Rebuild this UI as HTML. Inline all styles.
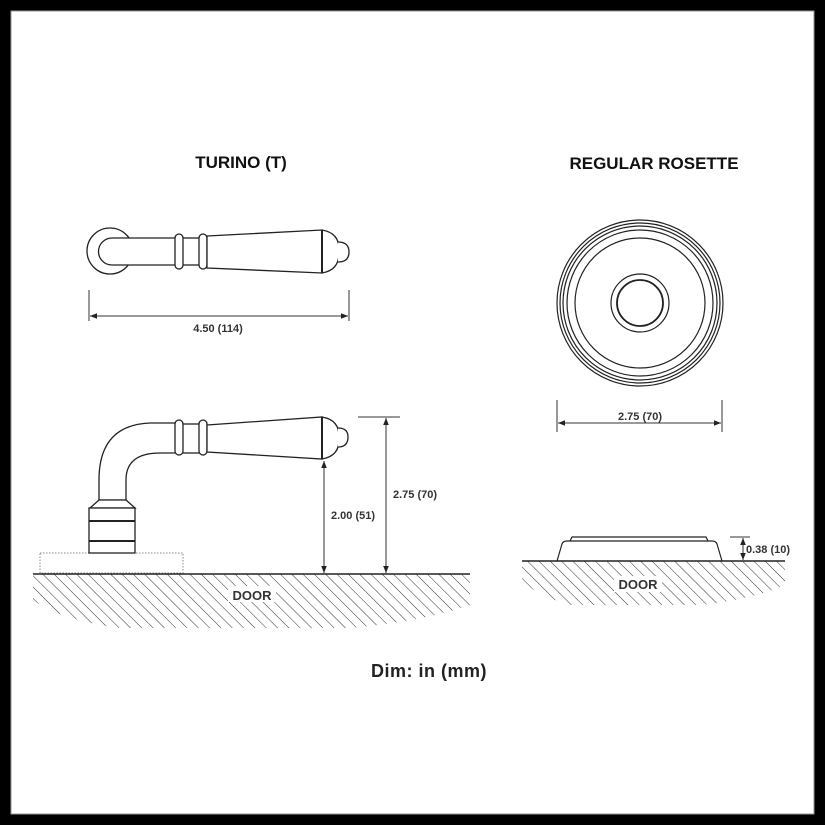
<!DOCTYPE html>
<html><head><meta charset="utf-8"><style>
html,body{margin:0;padding:0;background:#000;}
svg{display:block;}
text{font-family:"Liberation Sans",Arial,sans-serif;}
</style></head><body>
<svg width="825" height="825" viewBox="0 0 825 825" xmlns="http://www.w3.org/2000/svg">
<defs>
<marker id="ar" viewBox="0 0 10 10" refX="10" refY="5" markerWidth="7" markerHeight="7" orient="auto-start-reverse"><path d="M0,1 L10,5 L0,9 z" fill="#222"/></marker>
<pattern id="hatch" width="8" height="8" patternUnits="userSpaceOnUse" patternTransform="rotate(-45)"><line x1="0" y1="0" x2="0" y2="8" stroke="#333" stroke-width="1"/></pattern>
<clipPath id="c1"><path d="M33,574 L470,574 L470,605 Q420,622 350,628 L120,628 Q60,620 33,600 z"/></clipPath>
<clipPath id="c2"><path d="M522,561 L785,561 L785,585 Q750,600 700,605 L570,605 Q535,595 522,580 z"/></clipPath>
</defs>
<rect x="0" y="0" width="825" height="825" fill="#000"/>
<rect x="11" y="11" width="803" height="803" fill="#fff" stroke="#999" stroke-width="1"/>

<g fill="none" stroke="#222" stroke-width="1.3">
<circle cx="110" cy="251" r="23" fill="#fff"/>
<path d="M175,238 L112,238 A13.5,13.5 0 0 0 112,265 L175,265" fill="#fff"/>
<rect x="175" y="234" width="8" height="35" rx="4" fill="#fff"/>
<rect x="199" y="234" width="8" height="35" rx="4" fill="#fff"/>
<line x1="183" y1="238" x2="199" y2="238"/><line x1="183" y1="265" x2="199" y2="265"/>
<path d="M207,236 L322,230 L322,273 L207,268 z" fill="#fff"/>
<path d="M322,230 Q340,233 339,251 Q340,270 322,273" fill="#fff"/>
<path d="M338,242 Q349,242 349,252 Q349,262 338,262" fill="#fff"/>
<line x1="322" y1="230" x2="322" y2="273" stroke-width="2"/>
</g>
<g stroke="#333" stroke-width="1" fill="none">
<line x1="89" y1="290" x2="89" y2="321"/><line x1="349" y1="290" x2="349" y2="321"/>
<line x1="90" y1="316" x2="348" y2="316" marker-start="url(#ar)" marker-end="url(#ar)"/>
</g>
<text x="218" y="332" font-size="11" font-weight="bold" text-anchor="middle" fill="#333">4.50 (114)</text>

<rect x="40" y="553" width="143" height="20" fill="none" stroke="#888" stroke-width="1" stroke-dasharray="1.5,1.5"/>
<g fill="#fff" stroke="#222" stroke-width="1.3">
<path d="M175,423 L150,423 Q99,425 99,480 L99,500 L126,500 L126,480 Q126,453 160,453 L175,453"/>
<path d="M99,500 L126,500 L135,508 L90,508 z"/>
<rect x="89" y="508" width="46" height="45"/>
<line x1="89" y1="521" x2="135" y2="521" stroke-width="2"/>
<line x1="89" y1="541" x2="135" y2="541" stroke-width="2"/>
<rect x="175" y="420" width="8" height="35" rx="4"/>
<rect x="199" y="420" width="8" height="35" rx="4"/>
<line x1="183" y1="424" x2="199" y2="424"/><line x1="183" y1="453" x2="199" y2="453"/>
<path d="M207,425 L322,417 L322,459 L207,452 z"/>
<path d="M322,417 Q340,420 339,438 Q340,456 322,459"/>
<path d="M338,428 Q348,428 348,437 Q348,447 338,447"/>
<line x1="322" y1="417" x2="322" y2="459" stroke-width="2"/>
</g>
<rect x="33" y="574" width="437" height="60" fill="url(#hatch)" clip-path="url(#c1)"/>
<line x1="33" y1="574" x2="470" y2="574" stroke="#222" stroke-width="1.5"/>
<rect x="228" y="586" width="48" height="16" fill="#fff"/>
<text x="252" y="600" font-size="13" font-weight="bold" text-anchor="middle" fill="#333">DOOR</text>
<g stroke="#333" stroke-width="1" fill="none">
<line x1="324" y1="461" x2="324" y2="573" marker-start="url(#ar)" marker-end="url(#ar)"/>
<line x1="358" y1="417" x2="400" y2="417"/>
<line x1="386" y1="418" x2="386" y2="573" marker-start="url(#ar)" marker-end="url(#ar)"/>
</g>
<rect x="328" y="508" width="52" height="14" fill="#fff"/>
<text x="353" y="519" font-size="11" font-weight="bold" text-anchor="middle" fill="#333">2.00 (51)</text>
<text x="415" y="498" font-size="11" font-weight="bold" text-anchor="middle" fill="#333">2.75 (70)</text>

<g fill="none" stroke="#222" stroke-width="1.2">
<circle cx="640" cy="303" r="83"/>
<circle cx="640" cy="303" r="80"/>
<circle cx="640" cy="303" r="77"/>
<circle cx="640" cy="303" r="73"/>
<circle cx="640" cy="303" r="65"/>
<circle cx="640" cy="303" r="29"/>
<circle cx="640" cy="303" r="23" stroke-width="1.8"/>
</g>
<g stroke="#333" stroke-width="1" fill="none">
<line x1="557" y1="400" x2="557" y2="432"/><line x1="722" y1="400" x2="722" y2="432"/>
<line x1="558" y1="423" x2="721" y2="423" marker-start="url(#ar)" marker-end="url(#ar)"/>
</g>
<text x="640" y="420" font-size="11" font-weight="bold" text-anchor="middle" fill="#333">2.75 (70)</text>

<rect x="522" y="561" width="263" height="50" fill="url(#hatch)" clip-path="url(#c2)"/>
<g fill="#fff" stroke="#222" stroke-width="1.2">
<path d="M570,541 L572,537 L706,537 L708,541"/>
<path d="M557,561 L562,544 Q563,541 567,541 L712,541 Q716,541 717,544 L722,561"/>
</g>
<line x1="522" y1="561" x2="785" y2="561" stroke="#222" stroke-width="1.5"/>
<g stroke="#333" stroke-width="1" fill="none">
<line x1="730" y1="537" x2="750" y2="537"/>
<line x1="743" y1="538" x2="743" y2="560" marker-start="url(#ar)" marker-end="url(#ar)"/>
</g>
<text x="746" y="553" font-size="11" font-weight="bold" fill="#333">0.38 (10)</text>
<rect x="614" y="576" width="48" height="16" fill="#fff"/>
<text x="638" y="589" font-size="13" font-weight="bold" text-anchor="middle" fill="#333">DOOR</text>

<text x="241" y="168" font-size="17" font-weight="bold" text-anchor="middle" fill="#111">TURINO (T)</text>
<text x="654" y="169" font-size="17" font-weight="bold" text-anchor="middle" fill="#111">REGULAR ROSETTE</text>
<text x="429" y="677" font-size="18" font-weight="bold" text-anchor="middle" fill="#222" letter-spacing="0.5">Dim: in (mm)</text>
</svg>
</body></html>
